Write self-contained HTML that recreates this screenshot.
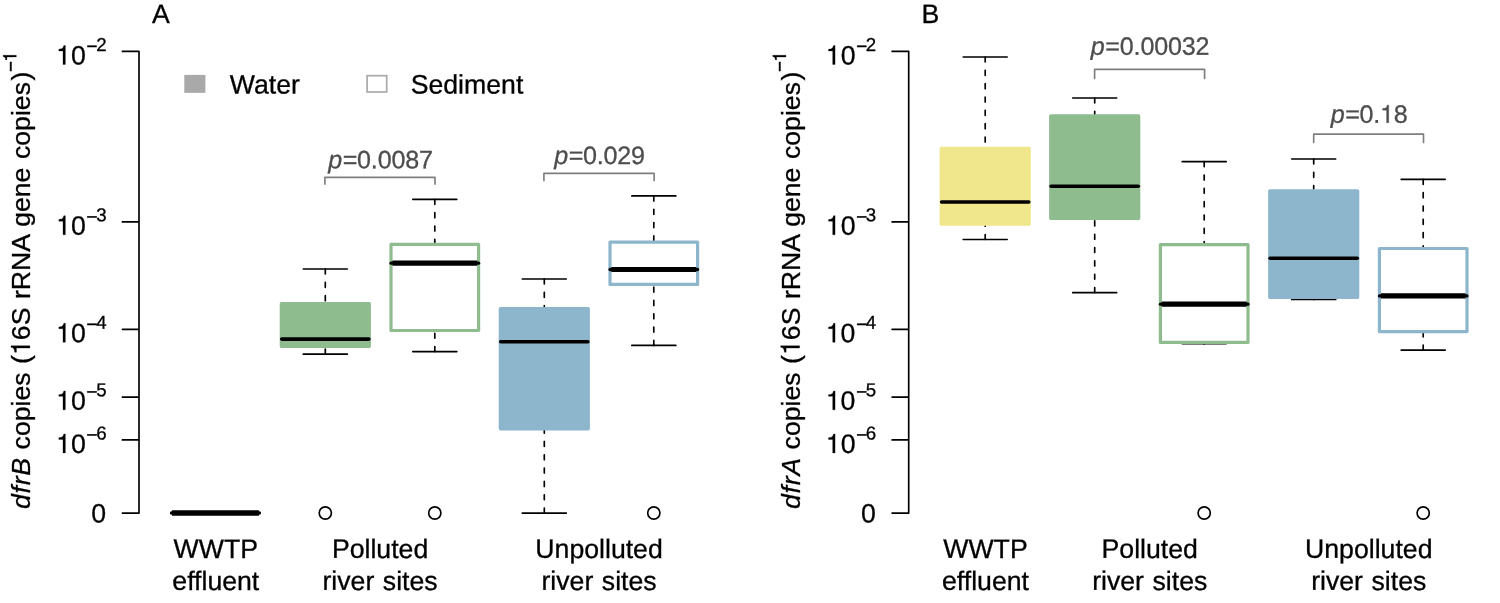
<!DOCTYPE html>
<html><head><meta charset="utf-8"><title>Figure</title>
<style>
html,body{margin:0;padding:0;background:#fff;}
body{width:1500px;height:603px;overflow:hidden;}
svg{display:block;will-change:transform;}
svg text{font-family:"Liberation Sans",sans-serif;fill:#000;stroke:#000;stroke-width:0.3px;}
svg .h{fill:none;stroke:none;}
svg .m{stroke-width:0.5px;}
</style></head><body>
<svg width="1500" height="603" viewBox="0 0 1500 603">
<rect width="1500" height="603" fill="#fff"/>
<text x="152" y="23.1" transform="rotate(0.03 152 23.1)" font-size="26.67">A</text>
<path d="M122.4 51.4H139V513.1H122.4M122.4 221.9H139M122.4 329.3H139M122.4 397.05H139M122.4 439.9H139" fill="none" stroke="#000" stroke-width="1.67" stroke-linecap="round" stroke-linejoin="round"/>
<text x="56.1" y="64.4" transform="rotate(0.03 56.1 64.4)" font-size="26.67"><tspan class="h">1</tspan>0<tspan font-size="18.67" dy="-11.8" dx="0.7" class="m">−</tspan><tspan font-size="18.67" dy="-1.7" dx="-1.2">2</tspan></text>
<text x="56.1" y="234.7" transform="rotate(0.03 56.1 234.7)" font-size="26.67"><tspan class="h">1</tspan>0<tspan font-size="18.67" dy="-11.8" dx="0.7" class="m">−</tspan><tspan font-size="18.67" dy="-1.7" dx="-1.2">3</tspan></text>
<text x="56.1" y="342.2" transform="rotate(0.03 56.1 342.2)" font-size="26.67"><tspan class="h">1</tspan>0<tspan font-size="18.67" dy="-11.8" dx="0.7" class="m">−</tspan><tspan font-size="18.67" dy="-1.7" dx="-1.2">4</tspan></text>
<text x="56.1" y="409.8" transform="rotate(0.03 56.1 409.8)" font-size="26.67"><tspan class="h">1</tspan>0<tspan font-size="18.67" dy="-11.8" dx="0.7" class="m">−</tspan><tspan font-size="18.67" dy="-1.7" dx="-1.2">5</tspan></text>
<text x="56.1" y="452.9" transform="rotate(0.03 56.1 452.9)" font-size="26.67"><tspan class="h">1</tspan>0<tspan font-size="18.67" dy="-11.8" dx="0.7" class="m">−</tspan><tspan font-size="18.67" dy="-1.7" dx="-1.2">6</tspan></text>
<text x="106.2" y="522.4" transform="rotate(0.03 106.2 522.4)" text-anchor="end" font-size="26.67">0</text>
<text transform="translate(29.9 509.05) rotate(-90)" font-size="26.67" word-spacing="1.1"><tspan font-style="italic" letter-spacing="0.73">dfrB</tspan><tspan dx="-0.7"> copies (<tspan class="h">1</tspan>6S rRNA gene copies</tspan><tspan dx="1.5">)</tspan><tspan font-size="18.67" dy="-13.3" dx="-0.5" class="m">−</tspan><tspan font-size="18.67" dx="-0.6" dy="-0.3" class="h">1</tspan></text>
<text x="215.8" y="557.9" transform="rotate(0.03 215.8 557.9)" text-anchor="middle" font-size="26.67">WWTP</text>
<text x="215.8" y="589.9" transform="rotate(0.03 215.8 589.9)" text-anchor="middle" font-size="26.67" word-spacing="1.1">effluent</text>
<text x="380.05" y="557.9" transform="rotate(0.03 380.05 557.9)" text-anchor="middle" font-size="26.67">Polluted</text>
<text x="380.05" y="589.9" transform="rotate(0.03 380.05 589.9)" text-anchor="middle" font-size="26.67" word-spacing="1.1">river sites</text>
<text x="599.05" y="557.9" transform="rotate(0.03 599.05 557.9)" text-anchor="middle" font-size="26.67">Unpolluted</text>
<text x="599.05" y="589.9" transform="rotate(0.03 599.05 589.9)" text-anchor="middle" font-size="26.67" word-spacing="1.1">river sites</text>
<rect x="184.3" y="74.9" width="21.1" height="17.95" fill="#a9a9a9"/>
<text x="229.8" y="93.4" transform="rotate(0.03 229.8 93.4)" font-size="26.67">Water</text>
<rect x="367.1" y="75.7" width="19.6" height="16.3" fill="#fff" stroke="#a9a9a9" stroke-width="1.67"/>
<text x="410.7" y="93.4" transform="rotate(0.03 410.7 93.4)" font-size="26.67">Sediment</text>
<path d="M171.5 513H259.4" stroke="#000" stroke-width="3.33" stroke-linecap="round" fill="none"/><path d="M172 513H258.9" stroke="#000" stroke-width="5.6" fill="none"/>
<path d="M303.3 269H347.3" stroke="#000" stroke-width="1.67" stroke-linecap="round" fill="none"/><path d="M325.3 269V302" stroke="#000" stroke-width="1.67" stroke-linecap="round" stroke-dasharray="5 8.33" fill="none"/>
<path d="M303.3 354.2H347.3" stroke="#000" stroke-width="1.67" stroke-linecap="round" fill="none"/><path d="M325.3 354.2V347.9" stroke="#000" stroke-width="1.67" stroke-linecap="round" stroke-dasharray="5 8.33" fill="none"/>
<rect x="281.37" y="303.67" width="87.87" height="42.57" fill="#8fbc8f" stroke="#8fbc8f" stroke-width="3.33" stroke-linejoin="round"/>
<path d="M281.7 339.1H368.9" stroke="#000" stroke-width="3.6" stroke-linecap="round" fill="none"/>
<path d="M412.8 199.3H456.8" stroke="#000" stroke-width="1.67" stroke-linecap="round" fill="none"/><path d="M434.8 199.3V242.8" stroke="#000" stroke-width="1.67" stroke-linecap="round" stroke-dasharray="5 8.33" fill="none"/>
<path d="M412.8 351.6H456.8" stroke="#000" stroke-width="1.67" stroke-linecap="round" fill="none"/><path d="M434.8 351.6V332.1" stroke="#000" stroke-width="1.67" stroke-linecap="round" stroke-dasharray="5 8.33" fill="none"/>
<rect x="391" y="244.4" width="87.6" height="86.1" fill="#fff" stroke="#8fbc8f" stroke-width="3.2" stroke-linejoin="round"/>
<path d="M391.07 263.2H478.53" stroke="#000" stroke-width="3.33" stroke-linecap="round" fill="none"/>
<path d="M392.5 263.2H477.1" stroke="#000" stroke-width="5.2" fill="none"/>
<path d="M522.3 279H566.3" stroke="#000" stroke-width="1.67" stroke-linecap="round" fill="none"/><path d="M544.3 279V307.1" stroke="#000" stroke-width="1.67" stroke-linecap="round" stroke-dasharray="5 8.33" fill="none"/>
<path d="M522.3 513.1H566.3" stroke="#000" stroke-width="1.67" stroke-linecap="round" fill="none"/><path d="M544.3 513.1V430.5" stroke="#000" stroke-width="1.67" stroke-linecap="round" stroke-dasharray="5 8.33" fill="none"/>
<rect x="500.37" y="308.77" width="87.87" height="120.07" fill="#8db6cd" stroke="#8db6cd" stroke-width="3.33" stroke-linejoin="round"/>
<path d="M500.7 341.7H587.9" stroke="#000" stroke-width="3.6" stroke-linecap="round" fill="none"/>
<path d="M631.8 195.9H675.8" stroke="#000" stroke-width="1.67" stroke-linecap="round" fill="none"/><path d="M653.8 195.9V240.6" stroke="#000" stroke-width="1.67" stroke-linecap="round" stroke-dasharray="5 8.33" fill="none"/>
<path d="M631.8 345.4H675.8" stroke="#000" stroke-width="1.67" stroke-linecap="round" fill="none"/><path d="M653.8 345.4V286" stroke="#000" stroke-width="1.67" stroke-linecap="round" stroke-dasharray="5 8.33" fill="none"/>
<rect x="610" y="242.2" width="87.6" height="42.2" fill="#fff" stroke="#8db6cd" stroke-width="3.2" stroke-linejoin="round"/>
<path d="M610.07 269.5H697.53" stroke="#000" stroke-width="3.33" stroke-linecap="round" fill="none"/>
<path d="M611.5 269.5H696.1" stroke="#000" stroke-width="5.2" fill="none"/>
<circle cx="325.3" cy="513" r="6.1" fill="none" stroke="#000" stroke-width="1.67"/>
<circle cx="434.8" cy="513" r="6.1" fill="none" stroke="#000" stroke-width="1.67"/>
<circle cx="653.8" cy="513" r="6.1" fill="none" stroke="#000" stroke-width="1.67"/>
<path d="M324.9 184.1V177.4H435V184.1" fill="none" stroke="#7f7f7f" stroke-width="1.67" stroke-linecap="round" stroke-linejoin="round"/><text x="379.65" y="168.2" transform="rotate(0.03 379.65 168.2)" text-anchor="middle" font-size="25.1" style="fill:#4d4d4d;stroke:#4d4d4d"><tspan font-style="italic" dx="0.8">p</tspan><tspan dx="0.5" letter-spacing="-0.186">=0.0087</tspan></text>
<path d="M543.9 180.4V173.4H654.1V180.4" fill="none" stroke="#7f7f7f" stroke-width="1.67" stroke-linecap="round" stroke-linejoin="round"/><text x="598.7" y="164" transform="rotate(0.03 598.7 164)" text-anchor="middle" font-size="25.1" style="fill:#4d4d4d;stroke:#4d4d4d"><tspan font-style="italic" dx="0.8">p</tspan><tspan dx="0.5" letter-spacing="-0.217">=0.029</tspan></text>
<text x="921.6" y="23.1" transform="rotate(0.03 921.6 23.1)" font-size="26.67">B</text>
<path d="M892.1 51.4H908.7V513.1H892.1M892.1 221.9H908.7M892.1 329.3H908.7M892.1 397.05H908.7M892.1 439.9H908.7" fill="none" stroke="#000" stroke-width="1.67" stroke-linecap="round" stroke-linejoin="round"/>
<text x="825.8" y="64.4" transform="rotate(0.03 825.8 64.4)" font-size="26.67"><tspan class="h">1</tspan>0<tspan font-size="18.67" dy="-11.8" dx="0.7" class="m">−</tspan><tspan font-size="18.67" dy="-1.7" dx="-1.2">2</tspan></text>
<text x="825.8" y="234.7" transform="rotate(0.03 825.8 234.7)" font-size="26.67"><tspan class="h">1</tspan>0<tspan font-size="18.67" dy="-11.8" dx="0.7" class="m">−</tspan><tspan font-size="18.67" dy="-1.7" dx="-1.2">3</tspan></text>
<text x="825.8" y="342.2" transform="rotate(0.03 825.8 342.2)" font-size="26.67"><tspan class="h">1</tspan>0<tspan font-size="18.67" dy="-11.8" dx="0.7" class="m">−</tspan><tspan font-size="18.67" dy="-1.7" dx="-1.2">4</tspan></text>
<text x="825.8" y="409.8" transform="rotate(0.03 825.8 409.8)" font-size="26.67"><tspan class="h">1</tspan>0<tspan font-size="18.67" dy="-11.8" dx="0.7" class="m">−</tspan><tspan font-size="18.67" dy="-1.7" dx="-1.2">5</tspan></text>
<text x="825.8" y="452.9" transform="rotate(0.03 825.8 452.9)" font-size="26.67"><tspan class="h">1</tspan>0<tspan font-size="18.67" dy="-11.8" dx="0.7" class="m">−</tspan><tspan font-size="18.67" dy="-1.7" dx="-1.2">6</tspan></text>
<text x="875.9" y="522.4" transform="rotate(0.03 875.9 522.4)" text-anchor="end" font-size="26.67">0</text>
<text transform="translate(799.6 509.05) rotate(-90)" font-size="26.67" word-spacing="1.1"><tspan font-style="italic" letter-spacing="0.73">dfrA</tspan><tspan dx="-0.7"> copies (<tspan class="h">1</tspan>6S rRNA gene copies</tspan><tspan dx="1.5">)</tspan><tspan font-size="18.67" dy="-13.3" dx="-0.5" class="m">−</tspan><tspan font-size="18.67" dx="-0.6" dy="-0.3" class="h">1</tspan></text>
<text x="985.5" y="557.9" transform="rotate(0.03 985.5 557.9)" text-anchor="middle" font-size="26.67">WWTP</text>
<text x="985.5" y="589.9" transform="rotate(0.03 985.5 589.9)" text-anchor="middle" font-size="26.67" word-spacing="1.1">effluent</text>
<text x="1149.75" y="557.9" transform="rotate(0.03 1149.75 557.9)" text-anchor="middle" font-size="26.67">Polluted</text>
<text x="1149.75" y="589.9" transform="rotate(0.03 1149.75 589.9)" text-anchor="middle" font-size="26.67" word-spacing="1.1">river sites</text>
<text x="1368.75" y="557.9" transform="rotate(0.03 1368.75 557.9)" text-anchor="middle" font-size="26.67">Unpolluted</text>
<text x="1368.75" y="589.9" transform="rotate(0.03 1368.75 589.9)" text-anchor="middle" font-size="26.67" word-spacing="1.1">river sites</text>
<path d="M963.2 57H1007.2" stroke="#000" stroke-width="1.67" stroke-linecap="round" fill="none"/><path d="M985.2 57V146.7" stroke="#000" stroke-width="1.67" stroke-linecap="round" stroke-dasharray="5 8.33" fill="none"/>
<path d="M963.2 239.5H1007.2" stroke="#000" stroke-width="1.67" stroke-linecap="round" fill="none"/><path d="M985.2 239.5V225.8" stroke="#000" stroke-width="1.67" stroke-linecap="round" stroke-dasharray="5 8.33" fill="none"/>
<rect x="941.27" y="148.37" width="87.87" height="75.77" fill="#f0e68c" stroke="#f0e68c" stroke-width="3.33" stroke-linejoin="round"/>
<path d="M941.6 202H1028.8" stroke="#000" stroke-width="3.6" stroke-linecap="round" fill="none"/>
<path d="M1072.7 98H1116.7" stroke="#000" stroke-width="1.67" stroke-linecap="round" fill="none"/><path d="M1094.7 98V114.3" stroke="#000" stroke-width="1.67" stroke-linecap="round" stroke-dasharray="5 8.33" fill="none"/>
<path d="M1072.7 292.6H1116.7" stroke="#000" stroke-width="1.67" stroke-linecap="round" fill="none"/><path d="M1094.7 292.6V220" stroke="#000" stroke-width="1.67" stroke-linecap="round" stroke-dasharray="5 8.33" fill="none"/>
<rect x="1050.77" y="115.97" width="87.87" height="102.37" fill="#8fbc8f" stroke="#8fbc8f" stroke-width="3.33" stroke-linejoin="round"/>
<path d="M1051.1 186.2H1138.3" stroke="#000" stroke-width="3.6" stroke-linecap="round" fill="none"/>
<path d="M1182.2 161.7H1226.2" stroke="#000" stroke-width="1.67" stroke-linecap="round" fill="none"/><path d="M1204.2 161.7V243" stroke="#000" stroke-width="1.67" stroke-linecap="round" stroke-dasharray="5 8.33" fill="none"/>
<path d="M1182.2 343.6H1226.2" stroke="#000" stroke-width="1.67" stroke-linecap="round" fill="none"/><path d="M1204.2 343.6V344" stroke="#000" stroke-width="1.67" stroke-linecap="round" stroke-dasharray="5 8.33" fill="none"/>
<rect x="1160.4" y="244.6" width="87.6" height="97.8" fill="#fff" stroke="#8fbc8f" stroke-width="3.2" stroke-linejoin="round"/>
<path d="M1160.47 304.2H1247.93" stroke="#000" stroke-width="3.33" stroke-linecap="round" fill="none"/>
<path d="M1161.9 304.2H1246.5" stroke="#000" stroke-width="5.2" fill="none"/>
<path d="M1291.7 159H1335.7" stroke="#000" stroke-width="1.67" stroke-linecap="round" fill="none"/><path d="M1313.7 159V189.2" stroke="#000" stroke-width="1.67" stroke-linecap="round" stroke-dasharray="5 8.33" fill="none"/>
<path d="M1291.7 299.4H1335.7" stroke="#000" stroke-width="1.67" stroke-linecap="round" fill="none"/><path d="M1313.7 299.4V298.9" stroke="#000" stroke-width="1.67" stroke-linecap="round" stroke-dasharray="5 8.33" fill="none"/>
<rect x="1269.77" y="190.87" width="87.87" height="106.37" fill="#8db6cd" stroke="#8db6cd" stroke-width="3.33" stroke-linejoin="round"/>
<path d="M1270.1 258.3H1357.3" stroke="#000" stroke-width="3.6" stroke-linecap="round" fill="none"/>
<path d="M1401.2 179.3H1445.2" stroke="#000" stroke-width="1.67" stroke-linecap="round" fill="none"/><path d="M1423.2 179.3V246.9" stroke="#000" stroke-width="1.67" stroke-linecap="round" stroke-dasharray="5 8.33" fill="none"/>
<path d="M1401.2 350.2H1445.2" stroke="#000" stroke-width="1.67" stroke-linecap="round" fill="none"/><path d="M1423.2 350.2V333.2" stroke="#000" stroke-width="1.67" stroke-linecap="round" stroke-dasharray="5 8.33" fill="none"/>
<rect x="1379.4" y="248.5" width="87.6" height="83.1" fill="#fff" stroke="#8db6cd" stroke-width="3.2" stroke-linejoin="round"/>
<path d="M1379.47 295.9H1466.93" stroke="#000" stroke-width="3.33" stroke-linecap="round" fill="none"/>
<path d="M1380.9 295.9H1465.5" stroke="#000" stroke-width="5.2" fill="none"/>
<circle cx="1204.2" cy="513" r="6.1" fill="none" stroke="#000" stroke-width="1.67"/>
<circle cx="1423.2" cy="513" r="6.1" fill="none" stroke="#000" stroke-width="1.67"/>
<path d="M1094.6 78.4V69.4H1204.6V78.4" fill="none" stroke="#7f7f7f" stroke-width="1.67" stroke-linecap="round" stroke-linejoin="round"/><text x="1149.3" y="54.8" transform="rotate(0.03 1149.3 54.8)" text-anchor="middle" font-size="25.1" style="fill:#4d4d4d;stroke:#4d4d4d"><tspan font-style="italic" dx="0.8">p</tspan><tspan dx="0.5" letter-spacing="-0.163">=0.00032</tspan></text>
<path d="M1313.7 142.4V134.2H1423.5V142.4" fill="none" stroke="#7f7f7f" stroke-width="1.67" stroke-linecap="round" stroke-linejoin="round"/><text x="1368.3" y="122.8" transform="rotate(0.03 1368.3 122.8)" text-anchor="middle" font-size="25.1" style="fill:#4d4d4d;stroke:#4d4d4d"><tspan font-style="italic" dx="0.8">p</tspan><tspan dx="0.5" letter-spacing="-0.260">=0.<tspan class="h">1</tspan>8</tspan></text>
<path d="M347 0V709H289C258 600 238 585 102 568V505H259V0Z" transform="rotate(0.03 56.1 64.4) translate(56.1 64.4) scale(0.02667 -0.02667)" fill="rgb(0, 0, 0)" stroke="rgb(0, 0, 0)" stroke-width="11.25"/>
<path d="M347 0V709H289C258 600 238 585 102 568V505H259V0Z" transform="rotate(0.03 56.1 234.7) translate(56.1 234.7) scale(0.02667 -0.02667)" fill="rgb(0, 0, 0)" stroke="rgb(0, 0, 0)" stroke-width="11.25"/>
<path d="M347 0V709H289C258 600 238 585 102 568V505H259V0Z" transform="rotate(0.03 56.1 342.2) translate(56.1 342.2) scale(0.02667 -0.02667)" fill="rgb(0, 0, 0)" stroke="rgb(0, 0, 0)" stroke-width="11.25"/>
<path d="M347 0V709H289C258 600 238 585 102 568V505H259V0Z" transform="rotate(0.03 56.1 409.8) translate(56.1 409.8) scale(0.02667 -0.02667)" fill="rgb(0, 0, 0)" stroke="rgb(0, 0, 0)" stroke-width="11.25"/>
<path d="M347 0V709H289C258 600 238 585 102 568V505H259V0Z" transform="rotate(0.03 56.1 452.9) translate(56.1 452.9) scale(0.02667 -0.02667)" fill="rgb(0, 0, 0)" stroke="rgb(0, 0, 0)" stroke-width="11.25"/>
<path d="M347 0V709H289C258 600 238 585 102 568V505H259V0Z" transform="translate(29.9 509.05) rotate(-90) translate(154.07 0) scale(0.02667 -0.02667)" fill="rgb(0, 0, 0)" stroke="rgb(0, 0, 0)" stroke-width="11.25"/>
<path d="M347 0V709H289C258 600 238 585 102 568V505H259V0Z" transform="translate(29.9 509.05) rotate(-90) translate(447.26 -13.6) scale(0.01867 -0.01867)" fill="rgb(0, 0, 0)" stroke="rgb(0, 0, 0)" stroke-width="16.07"/>
<path d="M347 0V709H289C258 600 238 585 102 568V505H259V0Z" transform="rotate(0.03 825.8 64.4) translate(825.8 64.4) scale(0.02667 -0.02667)" fill="rgb(0, 0, 0)" stroke="rgb(0, 0, 0)" stroke-width="11.25"/>
<path d="M347 0V709H289C258 600 238 585 102 568V505H259V0Z" transform="rotate(0.03 825.8 234.7) translate(825.8 234.7) scale(0.02667 -0.02667)" fill="rgb(0, 0, 0)" stroke="rgb(0, 0, 0)" stroke-width="11.25"/>
<path d="M347 0V709H289C258 600 238 585 102 568V505H259V0Z" transform="rotate(0.03 825.8 342.2) translate(825.8 342.2) scale(0.02667 -0.02667)" fill="rgb(0, 0, 0)" stroke="rgb(0, 0, 0)" stroke-width="11.25"/>
<path d="M347 0V709H289C258 600 238 585 102 568V505H259V0Z" transform="rotate(0.03 825.8 409.8) translate(825.8 409.8) scale(0.02667 -0.02667)" fill="rgb(0, 0, 0)" stroke="rgb(0, 0, 0)" stroke-width="11.25"/>
<path d="M347 0V709H289C258 600 238 585 102 568V505H259V0Z" transform="rotate(0.03 825.8 452.9) translate(825.8 452.9) scale(0.02667 -0.02667)" fill="rgb(0, 0, 0)" stroke="rgb(0, 0, 0)" stroke-width="11.25"/>
<path d="M347 0V709H289C258 600 238 585 102 568V505H259V0Z" transform="translate(799.6 509.05) rotate(-90) translate(154.07 0) scale(0.02667 -0.02667)" fill="rgb(0, 0, 0)" stroke="rgb(0, 0, 0)" stroke-width="11.25"/>
<path d="M347 0V709H289C258 600 238 585 102 568V505H259V0Z" transform="translate(799.6 509.05) rotate(-90) translate(447.26 -13.6) scale(0.01867 -0.01867)" fill="rgb(0, 0, 0)" stroke="rgb(0, 0, 0)" stroke-width="16.07"/>
<path d="M347 0V709H289C258 600 238 585 102 568V505H259V0Z" transform="rotate(0.03 1368.3 122.8) translate(1380.04 122.8) scale(0.02510 -0.02510)" fill="rgb(77, 77, 77)" stroke="rgb(77, 77, 77)" stroke-width="11.95"/>
</svg>
</body></html>
